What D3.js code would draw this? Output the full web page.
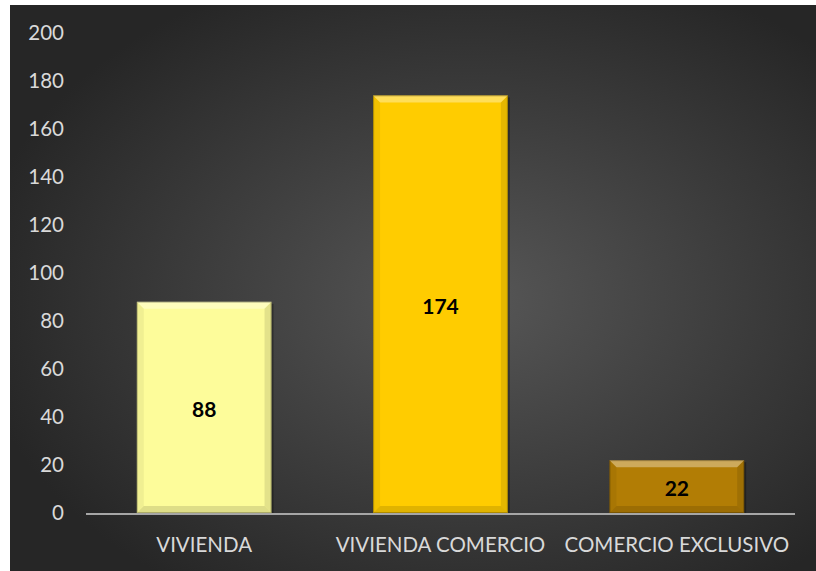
<!DOCTYPE html>
<html>
<head>
<meta charset="utf-8">
<script src="https://d3js.org/d3.v7.min.js"></script>
<style>
  body { margin: 0; background: #fff; }
  text { font-family: Lato, "Open Sans", sans-serif; }
</style>
</head>
<body>
<svg id="chart" width="816" height="571"></svg>
<script>
const categories = ["VIVIENDA", "VIVIENDA COMERCIO", "COMERCIO EXCLUSIVO"];
const values = [88, 174, 22];
const barColors = ["#fdfc9a", "#ffcc00", "#b27d05"];
const yTicks = [0, 20, 40, 60, 80, 100, 120, 140, 160, 180, 200];

const svg = d3.select("#chart");
const defs = svg.append("defs");

const bg = defs.append("radialGradient").attr("id", "bg")
  .attr("cx", "0.57").attr("cy", "0.52").attr("r", "0.62");
bg.append("stop").attr("offset", "0").attr("stop-color", "#575757");
bg.append("stop").attr("offset", "1").attr("stop-color", "#262626");

svg.append("rect").attr("x", 10).attr("y", 5).attr("width", 806).attr("height", 566)
  .attr("fill", "url(#bg)");

const x = d3.scaleBand().domain(categories).range([86, 795]).paddingInner(0.43).paddingOuter(0.215);
const y = d3.scaleLinear().domain([0, 200]).range([513, 33]);

// y tick labels
svg.append("g").selectAll("text").data(yTicks).join("text")
  .attr("x", 64).attr("y", d => y(d)).attr("dy", "0.36em")
  .attr("text-anchor", "end").attr("fill", "#d9d9d9").attr("font-size", 20.5)
  .text(d => d);

// bars with bevel
const bars = svg.append("g").selectAll("g").data(values).join("g");
const bw = x.bandwidth();
const bev = 7;

bars.append("rect")
  .attr("x", (d, i) => x(categories[i]) + 2).attr("y", d => y(d) + 2)
  .attr("width", bw).attr("height", d => y(0) - y(d))
  .attr("fill", "#000").attr("opacity", 0.3);

bars.append("rect")
  .attr("x", (d, i) => x(categories[i])).attr("y", d => y(d))
  .attr("width", bw).attr("height", d => y(0) - y(d))
  .attr("fill", (d, i) => barColors[i]);

function facet(i, d, side) {
  const x0 = x(categories[i]), x1 = x0 + bw, y0 = y(d), y1 = y(0);
  if (side === "top") return [[x0, y0], [x1, y0], [x1 - bev, y0 + bev], [x0 + bev, y0 + bev]];
  if (side === "left") return [[x0, y0], [x0 + bev, y0 + bev], [x0 + bev, y1 - bev], [x0, y1]];
  if (side === "right") return [[x1, y0], [x1 - bev, y0 + bev], [x1 - bev, y1 - bev], [x1, y1]];
  return [[x0, y1], [x0 + bev, y1 - bev], [x1 - bev, y1 - bev], [x1, y1]];
}
const facetStyle = { top: ["#fff", 0.35], left: ["#000", 0.05], right: ["#000", 0.1], bottom: ["#000", 0.12] };
["top", "left", "right", "bottom"].forEach(side => {
  bars.append("polygon")
    .attr("points", (d, i) => facet(i, d, side).map(p => p.join(",")).join(" "))
    .attr("fill", facetStyle[side][0]).attr("opacity", facetStyle[side][1]);
});
bars.append("rect")
  .attr("x", (d, i) => x(categories[i]) + 0.5).attr("y", d => y(d) + 0.5)
  .attr("width", bw - 1).attr("height", d => y(0) - y(d) - 1)
  .attr("fill", "none").attr("stroke", "#000").attr("stroke-opacity", 0.22);

// value labels
bars.append("text")
  .attr("x", (d, i) => x(categories[i]) + bw / 2)
  .attr("y", d => (y(d) + y(0)) / 2 + 2).attr("dy", "0.36em")
  .attr("text-anchor", "middle").attr("font-weight", "bold").attr("font-size", 21)
  .attr("fill", "#000").text(d => d);

// x axis line
svg.append("line").attr("x1", 86).attr("x2", 795).attr("y1", y(0) + 1).attr("y2", y(0) + 1)
  .attr("stroke", "#a6a6a6").attr("stroke-width", 2);

// category labels
svg.append("g").selectAll("text").data(categories).join("text")
  .attr("x", d => x(d) + bw / 2).attr("y", 545).attr("dy", "0.36em")
  .attr("text-anchor", "middle").attr("fill", "#d9d9d9").attr("font-size", 20.5)
  .text(d => d);
</script>
</body>
</html>
